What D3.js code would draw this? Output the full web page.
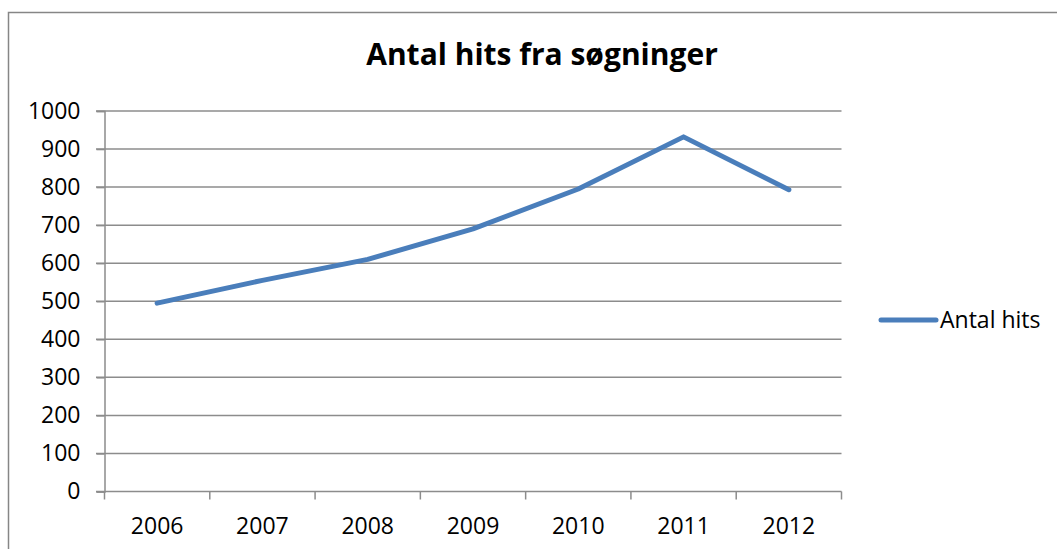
<!DOCTYPE html>
<html>
<head>
<meta charset="utf-8">
<script src="https://cdn.jsdelivr.net/npm/d3@7"></script>
<style>
  body { margin: 0; background: #fff; }
  text { font-family: "Open Sans", "Liberation Sans", sans-serif; fill: #000; }
</style>
</head>
<body>
<div id="vis-container"></div>
<script>
let years = ["2006", "2007", "2008", "2009", "2010", "2011", "2012"];
let hits = [495, 555, 610, 690, 795, 932, 793];
let yTicks = [0, 100, 200, 300, 400, 500, 600, 700, 800, 900, 1000];
let seriesName = "Antal hits";
let title = "Antal hits fra søgninger";

let w = 1057;
let h = 549;

let svg = d3.select("#vis-container")
  .append("svg")
  .attr("width", w)
  .attr("height", h);

// outer chart border (runs off right and bottom)
svg.append("rect")
  .attr("x", 8.5).attr("y", 12.5)
  .attr("width", w + 20).attr("height", h + 20)
  .attr("fill", "none")
  .attr("stroke", "#868686")
  .attr("stroke-width", 1.5);

let x = d3.scaleBand()
  .domain(years)
  .range([104.5, 841.5]);

let y = d3.scaleLinear()
  .domain([0, 1000])
  .range([491.5, 111]);

// gridlines
svg.append("g")
  .selectAll("line")
  .data(yTicks.filter(d => d > 0))
  .enter()
  .append("line")
  .attr("x1", 96).attr("x2", 841.5)
  .attr("y1", d => y(d)).attr("y2", d => y(d))
  .attr("stroke", "#8c8c8c")
  .attr("stroke-width", 1.5);

// y axis
let yAxis = svg.append("g")
  .attr("transform", "translate(104.5,0)")
  .call(d3.axisLeft(y).tickValues(yTicks).tickSize(8).tickPadding(16).tickFormat(d3.format("d")));
yAxis.select(".domain").attr("stroke", "#8c8c8c").attr("stroke-width", 1.5);
yAxis.selectAll(".tick line").attr("stroke", "#8c8c8c").attr("stroke-width", 1.5);
yAxis.selectAll("text").style("font-size", "23px").attr("fill", "#000");

// x axis with ticks at band boundaries
let xg = svg.append("g")
  .attr("transform", "translate(0," + y(0) + ")");
xg.append("line")
  .attr("x1", 96).attr("x2", 841.5)
  .attr("stroke", "#8c8c8c").attr("stroke-width", 1.5);
xg.selectAll(".tk")
  .data(years.concat(["end"]))
  .enter()
  .append("line")
  .attr("x1", (d, i) => i < years.length ? x(d) : x.range()[1])
  .attr("x2", (d, i) => i < years.length ? x(d) : x.range()[1])
  .attr("y1", 0).attr("y2", 8)
  .attr("stroke", "#8c8c8c").attr("stroke-width", 1.5);
xg.selectAll(".lbl")
  .data(years)
  .enter()
  .append("text")
  .attr("x", d => x(d) + x.bandwidth() / 2)
  .attr("y", 34)
  .attr("dy", "0.35em")
  .attr("text-anchor", "middle")
  .style("font-size", "23px")
  .text(d => d);

// line
let line = d3.line()
  .x((d, i) => x(years[i]) + x.bandwidth() / 2)
  .y(d => y(d));

svg.append("path")
  .datum(hits)
  .attr("d", line)
  .attr("fill", "none")
  .attr("stroke", "#4a7ebb")
  .attr("stroke-width", 5)
  .attr("stroke-linejoin", "round")
  .attr("stroke-linecap", "round");

// title
svg.append("text")
  .attr("x", 542)
  .attr("y", 65)
  .attr("text-anchor", "middle")
  .style("font-size", "30px")
  .style("font-weight", "bold")
  .text(title);

// legend
svg.append("line")
  .attr("x1", 881).attr("x2", 936)
  .attr("y1", 320).attr("y2", 320)
  .attr("stroke", "#4a7ebb")
  .attr("stroke-width", 5)
  .attr("stroke-linecap", "round");
svg.append("text")
  .attr("x", 940)
  .attr("y", 320)
  .attr("dy", "0.35em")
  .style("font-size", "23px")
  .text(seriesName);
</script>
</body>
</html>
